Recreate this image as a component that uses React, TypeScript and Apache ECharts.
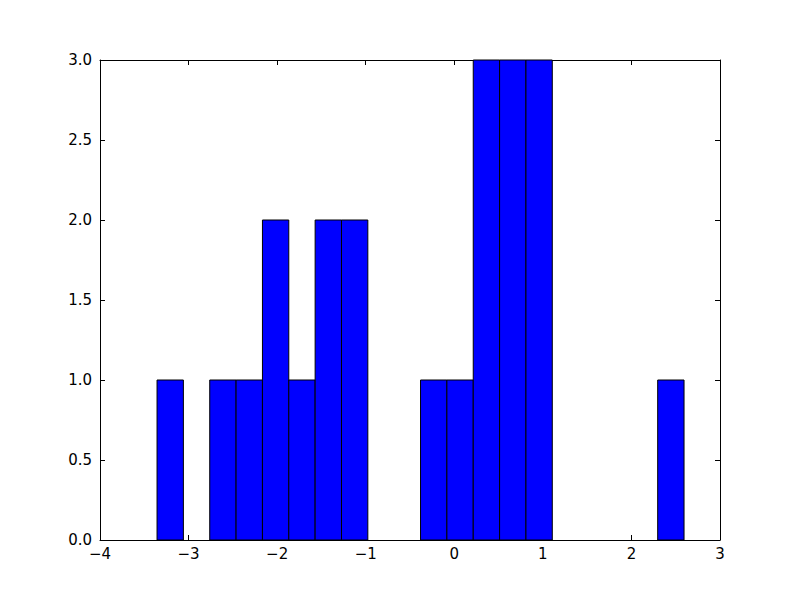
import React, { useEffect, useRef } from "react";
import * as echarts from "echarts";

const binEdges = [
  -3.356, -3.0585, -2.761, -2.4635, -2.166, -1.8685, -1.571, -1.2735, -0.976,
  -0.6785, -0.381, -0.0835, 0.214, 0.5115, 0.809, 1.1065, 1.404, 1.7015, 1.999,
  2.2965, 2.594,
];
const counts = [1, 0, 1, 1, 2, 1, 2, 2, 0, 0, 1, 1, 3, 3, 3, 0, 0, 0, 0, 1];
const xTicks = [-4, -3, -2, -1, 0, 1, 2, 3];
const yTicks = [0, 0.5, 1, 1.5, 2, 2.5, 3];

const fmtX = (v: number) => (v < 0 ? "\u2212" + Math.abs(v) : String(v));

export default function App() {
  const ref = useRef<HTMLDivElement>(null);
  useEffect(() => {
    const chart = echarts.init(ref.current!, null, { renderer: "svg" });
    const data = counts.map((c, i) => [binEdges[i], binEdges[i + 1], c]);
    const font = { fontFamily: "DejaVu Sans", fontSize: 15, color: "#000" };
    const axisLine = { show: true, onZero: false, lineStyle: { color: "#000", width: 1 } };
    const tickStyle = { show: true, inside: true, length: 5, lineStyle: { color: "#000", width: 1 } };
    chart.setOption({
      animation: false,
      backgroundColor: "#fff",
      grid: { left: 100, right: 80, top: 60, bottom: 60, containLabel: false },
      xAxis: [
        {
          type: "value",
          min: xTicks[0],
          max: xTicks[xTicks.length - 1],
          interval: 1,
          position: "bottom",
          axisLine,
          axisTick: tickStyle,
          splitLine: { show: false },
          axisLabel: { ...font, margin: 6, formatter: (v: number) => fmtX(v) },
        },
        {
          type: "value",
          min: xTicks[0],
          max: xTicks[xTicks.length - 1],
          interval: 1,
          position: "top",
          axisLine,
          axisTick: tickStyle,
          splitLine: { show: false },
          axisLabel: { show: false },
        },
      ],
      yAxis: [
        {
          type: "value",
          min: yTicks[0],
          max: yTicks[yTicks.length - 1],
          interval: 0.5,
          position: "left",
          axisLine,
          axisTick: tickStyle,
          splitLine: { show: false },
          axisLabel: { ...font, margin: 8, formatter: (v: number) => v.toFixed(1) },
        },
        {
          type: "value",
          min: yTicks[0],
          max: yTicks[yTicks.length - 1],
          interval: 0.5,
          position: "right",
          axisLine,
          axisTick: tickStyle,
          splitLine: { show: false },
          axisLabel: { show: false },
        },
      ],
      series: [
        {
          type: "custom",
          xAxisIndex: 0,
          yAxisIndex: 0,
          data,
          encode: { x: [0, 1], y: 2 },
          renderItem: (params: any, api: any) => {
            const c = api.value(2);
            if (!c) return null;
            const p0 = api.coord([api.value(0), c]);
            const p1 = api.coord([api.value(1), 0]);
            return {
              type: "rect",
              shape: { x: p0[0], y: p0[1], width: p1[0] - p0[0], height: p1[1] - p0[1] },
              style: { fill: "#0000ff", stroke: "#000", lineWidth: 1 },
            };
          },
          z: 1,
        },
      ],
    });
    return () => chart.dispose();
  }, []);
  return <div ref={ref} style={{ width: 800, height: 600, position: "absolute", left: 0, top: 0 }} />;
}
